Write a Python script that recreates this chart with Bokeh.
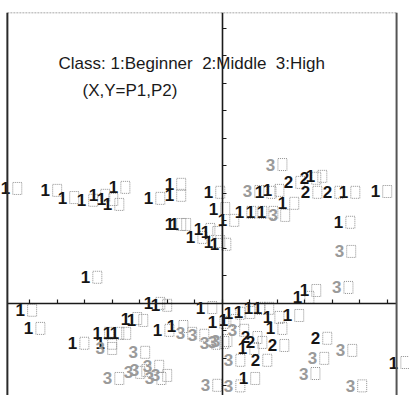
from bokeh.plotting import figure
from bokeh.models import ColumnDataSource, LinearAxis, Span, Label, FixedTicker
from bokeh.transform import dodge
from bokeh.embed import file_html
from bokeh.resources import INLINE
from bokeh.core.properties import value

# Class of each student (1: Beginner, 2: Middle, 3: High)
student_class = [
    1, 1, 1, 1, 1, 1, 1, 1, 1, 1, 1, 1, 3, 1, 1, 3, 2, 2, 1, 2, 2, 1, 1,
    1, 1, 1, 1, 1, 3, 1, 1, 3, 1, 1, 1, 1, 1, 1, 1, 1, 1, 1, 3,
    1, 1, 1, 1, 1, 1, 1, 1, 3, 3, 3, 1, 1, 1, 1, 1, 3, 3, 3, 3, 3, 3, 3, 3,
    1, 1, 1, 1, 1, 1, 1, 1, 1, 1, 3, 2, 2, 1, 2, 3, 3, 2, 1, 2, 3, 3, 3, 3,
    3, 3, 1, 3,
]
# First principal component (X = P1)
p1 = [
    -7.89, -6.44, -5.82, -5.13, -4.69, -4.40, -4.18, -3.96, -2.69, -1.93, -1.93, -0.51, 0.91, 1.35, 1.64, 1.75, 2.40, 2.98, 3.20, 3.02, 3.82, 4.40, 5.56,
    -0.33, 0.00, 0.62, 1.02, 1.42, 1.85, 2.18, 4.22, 4.25, -1.93, -1.75, -1.16, -0.87, -0.62, -0.51, -0.29, -4.98, 2.98, 2.73, 4.15,
    -7.35, -7.05, -3.53, -3.31, -2.69, -2.44, -2.36, -1.85, -1.53, -1.09, -0.65, -5.45, -4.55, -4.44, -4.18, -3.93, -4.44, -3.24, -4.18, -3.42, -3.20, -2.73, -2.65, -2.44,
    -0.80, -0.36, 0.04, 0.22, 0.58, 0.95, 1.27, 1.64, 2.36, 1.75, 0.36, 0.84, 1.02, 0.73, 1.82, -0.36, 0.22, 1.20, 0.76, 3.38, 4.29, 3.27, 2.95, 4.65,
    0.22, -0.62, 6.22, -0.25,
]
# Second principal component (Y = P2)
p2 = [
    4.18, 4.11, 3.85, 3.75, 3.93, 3.78, 3.60, 4.22, 3.82, 4.33, 3.93, 4.04, 4.07, 4.04, 4.11, 5.05, 4.40, 4.55, 4.62, 4.04, 4.04, 4.04, 4.07,
    3.45, 3.02, 3.31, 3.31, 3.31, 3.20, 3.64, 2.95, 1.89, 2.87, 2.87, 2.40, 2.69, 2.58, 2.25, 2.15, 0.95, 0.47, 0.22, 0.58,
    -0.25, -0.91, -0.55, -0.62, 0.00, -0.07, -0.98, -0.84, -1.09, -1.16, -1.45, -1.45, -1.09, -1.45, -1.09, -1.09, -1.64, -1.78, -2.73, -2.51, -2.44, -2.29, -2.73, -2.62,
    -0.15, -0.69, -0.62, -0.36, -0.33, -0.18, -0.18, -0.51, -0.44, -0.91, -0.98, -1.24, -1.42, -1.64, -1.53, -1.42, -2.07, -2.07, -2.73, -1.27, -1.71, -2.00, -2.55, -3.00,
    -3.00, -2.98, -2.15, -1.35,
]

class_labels = {1: "1", 2: "2", 3: "3"}
class_colors = {1: "#151515", 2: "#151515", 3: "#9a9a9a"}

x_ticks = list(range(-7, 7))
y_ticks = list(range(-3, 11))

# plot box limits (left, right, top); the box is open at the bottom
box_left, box_right, box_top = -7.82, 6.33, 10.58

title_line1 = "Class: 1:Beginner\u00a0 2:Middle\u00a0 3:High"
title_line2 = "(X,Y=P1,P2)"

src = ColumnDataSource(dict(
    x=p1,
    y=p2,
    label=[class_labels[c] for c in student_class],
    color=[class_colors[c] for c in student_class],
))

p = figure(width=409, height=395, x_range=(-8.07, 6.80), y_range=(-3.35, 10.58),
           output_backend="svg", toolbar_location=None,
           x_axis_location=None, y_axis_location=None,
           min_border_left=0, min_border_right=0, min_border_top=12, min_border_bottom=0)
p.grid.grid_line_color = None
p.outline_line_color = None
p.background_fill_color = "white"
p.border_fill_color = "white"

axis_style = dict(major_tick_in=4, major_tick_out=0, minor_tick_line_color=None,
                  major_label_text_font_size="1px", major_label_standoff=0,
                  axis_line_color="#1a1a1a", axis_line_width=1.6,
                  major_tick_line_color="#1a1a1a", major_tick_line_width=1.2)
xa = LinearAxis(fixed_location=0, ticker=FixedTicker(ticks=x_ticks), bounds=(box_left, box_right),
                major_label_overrides={t: "" for t in x_ticks}, **axis_style)
ya = LinearAxis(fixed_location=0, ticker=FixedTicker(ticks=y_ticks),
                major_label_overrides={t: "" for t in y_ticks}, **axis_style)
p.add_layout(xa, "below")
p.add_layout(ya, "left")

# frame borders (no bottom border)
p.add_layout(Span(location=box_left, dimension="height", line_color="#2a2a2a", line_width=2))
p.add_layout(Span(location=box_right, dimension="height", line_color="#555555", line_width=2))
p.segment(x0=[box_left], y0=[box_top], x1=[box_right], y1=[box_top],
          line_color="#8a8a8a", line_width=1.5, line_dash="2 1")

p.rect(x=dodge("x", 0.43, range=p.x_range), y="y", width=9, height=12,
       width_units="screen", height_units="screen", source=src,
       fill_color=None, line_color="#8f8f8f", line_width=1, line_dash="1 1")
p.text(x="x", y="y", text="label", source=src, text_color="color",
       text_font=value("Liberation Sans"), text_font_style="bold", text_font_size="17px",
       text_align="center", text_baseline="middle")

p.add_layout(Label(x=-5.96, y=8.73, text=title_line1, text_font="Liberation Sans",
                   text_font_size="17px", text_color="#1a1a1a", text_baseline="alphabetic"))
p.add_layout(Label(x=-5.09, y=7.75, text=title_line2, text_font="Liberation Sans",
                   text_font_size="17px", text_color="#1a1a1a", text_baseline="alphabetic"))

open("out.html", "w").write(file_html(p, INLINE))
